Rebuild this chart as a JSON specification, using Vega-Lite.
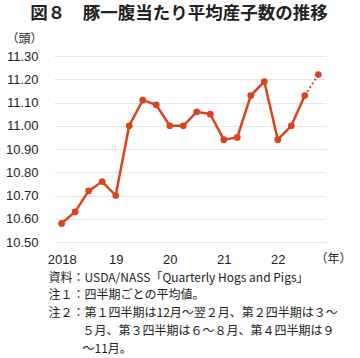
{
  "$schema": "https://vega.github.io/schema/vega-lite/v6.json",
  "autosize": {"type": "none"},
  "padding": {"left": 54, "top": 56, "right": 34, "bottom": 116},
  "width": 272,
  "height": 186,
  "background": "white",
  "config": {"view": {"stroke": null}},
  "title": {
    "text": "図８　豚一腹当たり平均産子数の推移",
    "anchor": "middle",
    "frame": "group",
    "font": "Noto Sans CJK JP",
    "fontSize": 17.5,
    "fontWeight": "bold",
    "color": "#222222",
    "baseline": "alphabetic",
    "offset": -4,
    "dx": -11
  },
  "data": {
    "values": [
      {"t": 2018.0, "v": 10.58},
      {"t": 2018.25, "v": 10.63},
      {"t": 2018.5, "v": 10.72},
      {"t": 2018.75, "v": 10.76},
      {"t": 2019.0, "v": 10.70},
      {"t": 2019.25, "v": 11.00},
      {"t": 2019.5, "v": 11.11},
      {"t": 2019.75, "v": 11.09},
      {"t": 2020.0, "v": 11.00},
      {"t": 2020.25, "v": 11.00},
      {"t": 2020.5, "v": 11.06},
      {"t": 2020.75, "v": 11.05},
      {"t": 2021.0, "v": 10.94},
      {"t": 2021.25, "v": 10.95},
      {"t": 2021.5, "v": 11.13},
      {"t": 2021.75, "v": 11.19},
      {"t": 2022.0, "v": 10.94},
      {"t": 2022.25, "v": 11.00},
      {"t": 2022.5, "v": 11.13},
      {"t": 2022.75, "v": 11.22}
    ]
  },
  "resolve": {"axis": {"y": "independent", "x": "independent"}},
  "layer": [
    {
      "transform": [{"filter": "datum.t <= 2022.5"}],
      "mark": {"type": "line", "color": "#d9431e", "strokeWidth": 2.5},
      "encoding": {
        "x": {
          "field": "t", "type": "quantitative",
          "scale": {"domain": [2017.858, 2022.892], "nice": false, "zero": false},
          "axis": {
            "values": [2018, 2019, 2020, 2021, 2022],
            "labelExpr": "datum.value == 2018 ? '2018' : substring(toString(datum.value), 2)",
            "grid": false, "domain": false, "ticks": false,
            "labelFont": "Liberation Sans", "labelFontSize": 13, "labelColor": "#222222",
            "labelPadding": 11, "labelBaseline": "top", "labelFlush": false,
            "title": [
              "資料：USDA/NASS「Quarterly Hogs and Pigs」",
              "注１：四半期ごとの平均値。",
              "注２：第１四半期は12月～翌２月、第２四半期は３～"
            ],
            "titleFont": "Noto Sans CJK JP", "titleFontSize": 12, "titleFontWeight": "normal",
            "titleColor": "#222222", "titleAlign": "left", "titleBaseline": "top",
            "titleX": -6, "titleY": 30, "titleLineHeight": 17.8, "titleAngle": 0
          }
        },
        "y": {
          "field": "v", "type": "quantitative",
          "scale": {"domain": [10.5, 11.3], "nice": false, "zero": false},
          "axis": {
            "values": [10.5, 10.6, 10.7, 10.8, 10.9, 11.0, 11.1, 11.2, 11.3],
            "format": ".2f",
            "grid": true, "gridColor": "#e6e6e6", "gridWidth": 1,
            "domain": false, "ticks": false,
            "labelFont": "Liberation Sans", "labelFontSize": 13, "labelColor": "#222222",
            "labelPadding": 16,
            "title": "（頭）", "titleAngle": 0, "titleFont": "Noto Sans CJK JP",
            "titleFontSize": 12, "titleFontWeight": "normal", "titleColor": "#222222",
            "titleAlign": "center", "titleBaseline": "middle",
            "titleX": -30, "titleY": -18
          }
        }
      }
    },
    {
      "transform": [{"filter": "datum.t >= 2022.5"}],
      "mark": {"type": "line", "color": "#d9431e", "strokeWidth": 2, "strokeDash": [2, 2.5]},
      "encoding": {
        "x": {
          "field": "t", "type": "quantitative",
          "axis": {
            "orient": "top", "grid": false, "domain": false, "ticks": false, "labels": false,
            "title": [
              "５月、第３四半期は６～８月、第４四半期は９",
              "～11月。"
            ],
            "titleFont": "Noto Sans CJK JP", "titleFontSize": 12, "titleFontWeight": "normal",
            "titleColor": "#222222", "titleAlign": "left", "titleBaseline": "top",
            "titleX": 28, "titleY": 269.4, "titleLineHeight": 17.8, "titleAngle": 0
          }
        },
        "y": {
          "field": "v", "type": "quantitative",
          "axis": {
            "orient": "right", "grid": false, "domain": false, "ticks": false, "labels": false,
            "title": "（年）", "titleAngle": 0, "titleFont": "Noto Sans CJK JP",
            "titleFontSize": 12, "titleFontWeight": "normal", "titleColor": "#222222",
            "titleAlign": "center", "titleBaseline": "middle",
            "titleX": 7, "titleY": 202
          }
        }
      }
    },
    {
      "mark": {"type": "point", "filled": true, "color": "#d9431e", "opacity": 1, "size": 45},
      "encoding": {
        "x": {"field": "t", "type": "quantitative", "axis": null},
        "y": {"field": "v", "type": "quantitative", "axis": null}
      }
    }
  ]
}
